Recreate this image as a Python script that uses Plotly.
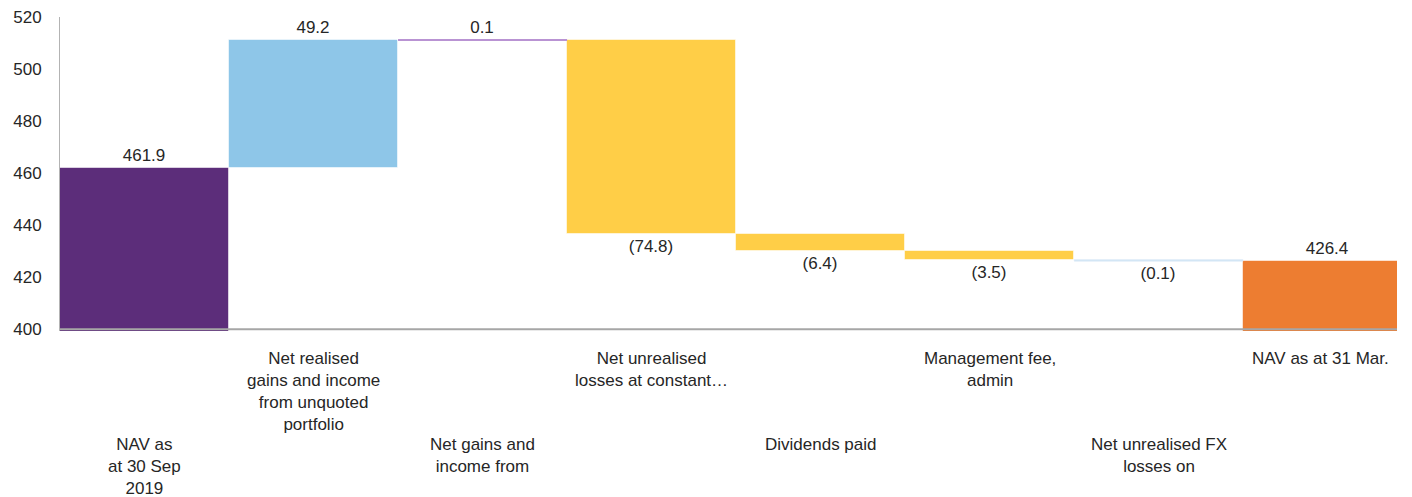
import plotly.graph_objects as go

# NAV bridge, £m
categories = [
    "NAV as<br>at 30 Sep<br>2019",
    "Net realised<br>gains and income<br>from unquoted<br>portfolio",
    "Net gains and<br>income from",
    "Net unrealised<br>losses at constant…",
    "Dividends paid",
    "Management fee,<br>admin",
    "Net unrealised FX<br>losses on",
    "NAV as at 31 Mar.",
]
values = [461.9, 49.2, 0.1, -74.8, -6.4, -3.5, -0.1, 426.4]
is_total = [True, False, False, False, False, False, False, True]
colors = ["#5C2D7A", "#8EC6E8", "#B993D3", "#FFCE47", "#FFCE47", "#FFCE47", "#D3E6F5", "#ED7D31"]
y_ticks = [400, 420, 440, 460, 480, 500, 520]

# floating bars: totals start at zero, steps start at the running level
bases, heights, labels = [], [], []
level = 0.0
for v, tot in zip(values, is_total):
    if tot:
        bases.append(0.0)
        level = v
    else:
        bases.append(level)
        level += v
    heights.append(v)
    labels.append(f"({abs(v):.1f})" if v < 0 else f"{v:.1f}")

xs = list(range(len(categories)))
font = "Liberation Sans, Arial, sans-serif"
bar_width = 1.0

fig = go.Figure(
    go.Bar(
        x=xs,
        y=heights,
        base=bases,
        width=bar_width,
        marker=dict(color=colors, line=dict(color="rgba(255,255,255,0.55)", width=1)),
        text=labels,
        textposition="outside",
        textfont=dict(family=font, size=17, color="#262626"),
        cliponaxis=False,
        hoverinfo="skip",
    )
)

# steps too small to show as a filled bar are drawn as a thin rule at their level
for i, (b, h) in enumerate(zip(bases, heights)):
    if abs(h) < 0.5:
        lvl = b + h
        fig.add_trace(go.Scatter(
            x=[i - bar_width / 2, i + bar_width / 2], y=[lvl, lvl],
            mode="lines", line=dict(color=colors[i], width=2),
            hoverinfo="skip", showlegend=False,
        ))

# 400 baseline
fig.add_shape(type="line", xref="paper", x0=0, x1=1, yref="y", y0=400, y1=400,
              line=dict(color="#A6A6A6", width=2), layer="above")

# staggered category labels under the bars
for i, name in enumerate(categories):
    shift = -16 if i % 2 == 1 else -102
    fig.add_annotation(
        x=i, xref="x", y=0, yref="paper", yanchor="top", xanchor="center",
        yshift=shift, xshift=-7 if i == len(categories) - 1 else 0,
        text=name, showarrow=False, align="center",
        font=dict(family=font, size=17, color="#262626"),
    )

fig.update_layout(
    width=1412, height=497,
    margin=dict(l=60, r=15, t=17, b=166, autoexpand=False),
    paper_bgcolor="white", plot_bgcolor="white",
    showlegend=False,
    bargap=0,
    xaxis=dict(range=[-0.5, 7.41], showticklabels=False, showgrid=False,
               zeroline=False, showline=False, ticks="", automargin=False),
    yaxis=dict(range=[399.3, 520], tickvals=y_ticks, showgrid=False, zeroline=False,
               showline=True, linecolor="#B3B3B3", linewidth=1, ticks="", automargin=False,
               tickfont=dict(family=font, size=17, color="#262626"), ticklabelstandoff=14),
)

fig.write_html("out.html")
